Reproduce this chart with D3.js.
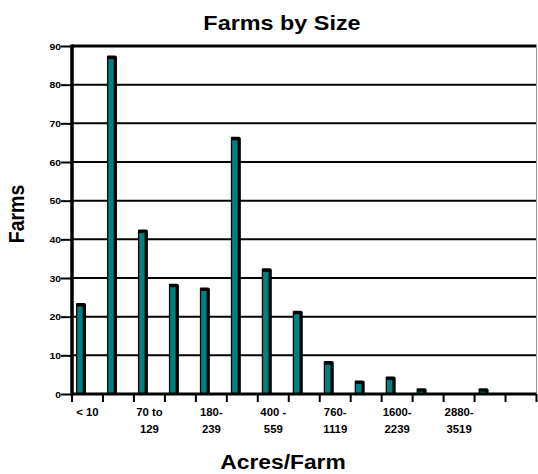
<html>
<head>
<script src="https://cdnjs.cloudflare.com/ajax/libs/d3/7.8.5/d3.min.js"></script>
<style>
  body { margin: 0; background: #fff; }
  text { font-family: Arial, "Liberation Sans", sans-serif; font-weight: bold; }
</style>
</head>
<body>
<svg width="538" height="474"></svg>
<script>
// size classes (acres/farm); only every other one is labelled on the axis
const categories = ["< 10", "10 - 69", "70 to 129", "130 - 179", "180-239", "240 - 399",
                    "400 - 559", "560 - 759", "760-1119", "1120 - 1599", "1600-2239",
                    "2240 - 2879", "2880-3519", "3520 +", ""];
const farms = [23, 87, 42, 28, 27, 66, 32, 21, 8, 3, 4, 1, 0, 1, 0];
const yTicks = [0, 10, 20, 30, 40, 50, 60, 70, 80, 90];

const svg = d3.select("svg");
const plotLeft = 72, plotRight = 536.5, plotTop = 46, plotBottom = 394;
// the original picture is a bit stretched sideways, so text is widened to match
const stretch = 1.17;

const x = d3.scaleBand()
  .domain(d3.range(categories.length))
  .range([plotLeft, plotRight]);
const y = d3.scaleLinear()
  .domain([0, 90])
  .range([plotBottom, plotTop]);

// gridlines
svg.append("g")
  .selectAll("line")
  .data(yTicks.slice(1))
  .join("line")
  .attr("x1", plotLeft).attr("x2", plotRight)
  .attr("y1", d => y(d)).attr("y2", d => y(d))
  .attr("stroke", "#000")
  .attr("stroke-width", d => d === 90 ? 3 : 2);

// right edge of the plot
svg.append("line")
  .attr("x1", plotRight).attr("x2", plotRight)
  .attr("y1", plotTop).attr("y2", plotBottom)
  .attr("stroke", "#999").attr("stroke-width", 1);

// bars: dark shell (top + side) with teal front face
const bars = svg.append("g")
  .selectAll("g")
  .data(farms.map((v, i) => ({ i, v })).filter(d => d.v > 0))
  .join("g");

bars.append("path")
  .attr("d", d => {
    const x0 = x(d.i) + 4, x1 = x0 + 10, yt = y(d.v) - 2;
    return `M${x0},${plotBottom} L${x0},${yt + 1} Q${x0},${yt} ${x0 + 1},${yt} L${x1 - 2},${yt} Q${x1},${yt} ${x1},${yt + 2} L${x1},${plotBottom} Z`;
  })
  .attr("fill", "#000");

bars.append("rect")
  .attr("x", d => x(d.i) + 5.3)
  .attr("width", 5.4)
  .attr("y", d => Math.min(y(d.v) + 1.5, plotBottom - 1))
  .attr("height", d => Math.max(plotBottom - y(d.v) - 1.5, 1))
  .attr("fill", "#008080");

// y axis
const yAxis = svg.append("g")
  .attr("transform", `translate(${plotLeft},0)`)
  .call(d3.axisLeft(y).tickValues(yTicks).tickSize(11).tickPadding(0));
yAxis.select(".domain").remove();
yAxis.selectAll(".tick line").attr("stroke", "#000").attr("stroke-width", 2);
yAxis.selectAll(".tick text")
  .attr("x", 0)
  .attr("transform", "translate(-11,0) scale(1.1,1)")
  .attr("font-size", 9.5).attr("fill", "#000")
  .style("font-family", "Arial, 'Liberation Sans', sans-serif").style("font-weight", "bold");

svg.append("line")
  .attr("x1", plotLeft).attr("x2", plotLeft)
  .attr("y1", plotTop - 1.5).attr("y2", plotBottom + 1.5)
  .attr("stroke", "#000").attr("stroke-width", 3.5);

// x axis: line, ticks at band edges, labels on every other band
svg.append("line")
  .attr("x1", plotLeft).attr("x2", plotRight)
  .attr("y1", plotBottom).attr("y2", plotBottom)
  .attr("stroke", "#000").attr("stroke-width", 3);

svg.append("g")
  .selectAll("line")
  .data(d3.range(categories.length + 1))
  .join("line")
  .attr("x1", i => plotLeft + i * x.bandwidth()).attr("x2", i => plotLeft + i * x.bandwidth())
  .attr("y1", plotBottom).attr("y2", plotBottom + 8)
  .attr("stroke", "#000").attr("stroke-width", 2);

const splitLabel = s => {
  if (s === "< 10") return [s];
  if (s.includes(" to ")) return [s.split(" to ")[0] + " to", s.split(" to ")[1]];
  if (s.includes(" - ")) return [s.split(" - ")[0] + " -", s.split(" - ")[1]];
  const p = s.split("-");
  return [p[0] + "-", p[1]];
};

svg.append("g")
  .selectAll("text")
  .data(categories.map((c, i) => ({ c, i })).filter(d => d.i % 2 === 0 && d.c))
  .join("text")
  .attr("text-anchor", "middle")
  .attr("font-size", 10.8)
  .attr("fill", "#000")
  .attr("transform", d => `translate(${x(d.i) + x.bandwidth() / 2},0) scale(1.05,1)`)
  .each(function (d) {
    const t = d3.select(this);
    splitLabel(d.c).forEach((line, k) => {
      t.append("tspan")
        .attr("x", 0)
        .attr("y", 416.5 + k * 16.5)
        .text(line);
    });
  });

// titles
svg.append("text")
  .attr("transform", `translate(282,30) scale(${stretch},1)`)
  .attr("text-anchor", "middle")
  .attr("font-size", 20)
  .text("Farms by Size");

svg.append("text")
  .attr("transform", `translate(24,214) scale(${stretch},1) rotate(-90)`)
  .attr("text-anchor", "middle")
  .attr("font-size", 19.5)
  .text("Farms");

svg.append("text")
  .attr("transform", `translate(283,469) scale(${stretch},1)`)
  .attr("text-anchor", "middle")
  .attr("font-size", 19.5)
  .text("Acres/Farm");
</script>
</body>
</html>
